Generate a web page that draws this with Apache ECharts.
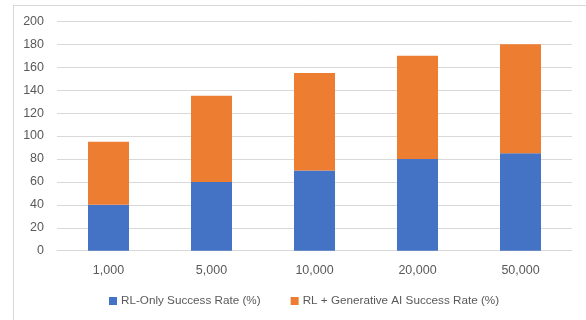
<!DOCTYPE html>
<html>
<head>
<meta charset="utf-8">
<script src="https://cdn.jsdelivr.net/npm/echarts@6/dist/echarts.min.js"></script>
<style>html,body{margin:0;padding:0;background:#fff;}#c{width:586px;height:320px;}</style>
</head>
<body>
<div id="c"></div>
<script>
var categories = ['1,000', '5,000', '10,000', '20,000', '50,000'];
var rlOnly = [40, 60, 70, 80, 85];
var rlGenAI = [55, 75, 85, 90, 95];
var seriesNames = ['RL-Only Success Rate (%)', 'RL + Generative AI Success Rate (%)'];

var chart = echarts.init(document.getElementById('c'));
var font = 'Liberation Sans';
chart.setOption({
  animation: false,
  graphic: [
    { type: 'line', shape: { x1: 13, y1: 5.5, x2: 586, y2: 5.5 }, style: { stroke: '#D9D9D9', lineWidth: 1 } },
    { type: 'line', shape: { x1: 13.5, y1: 5, x2: 13.5, y2: 320 }, style: { stroke: '#D9D9D9', lineWidth: 1 } }
  ],
  grid: { left: 57, right: 14, top: 21.3, bottom: 69.3, containLabel: false },
  legend: {
    bottom: 8,
    left: 104,
    itemWidth: 8, itemHeight: 8, itemGap: 30,
    icon: 'rect',
    textStyle: { fontFamily: font, fontSize: 11.7, color: '#595959', padding: [0, 0, 0, -1] },
    data: seriesNames
  },
  xAxis: {
    type: 'category',
    data: categories,
    axisLine: { lineStyle: { color: '#D9D9D9' } },
    axisTick: { show: false },
    axisLabel: { fontFamily: font, fontSize: 12.5, color: '#595959', margin: 13 }
  },
  yAxis: {
    type: 'value',
    min: 0, max: 200, interval: 20,
    axisLine: { show: false },
    axisTick: { show: false },
    splitLine: { lineStyle: { color: '#D9D9D9' } },
    axisLabel: { fontFamily: font, fontSize: 12.5, color: '#595959', margin: 13 }
  },
  series: [
    { name: seriesNames[0], type: 'bar', stack: 's', data: rlOnly, barWidth: 41, itemStyle: { color: '#4472C4' } },
    { name: seriesNames[1], type: 'bar', stack: 's', data: rlGenAI, barWidth: 41, itemStyle: { color: '#ED7D31' } }
  ]
});
</script>
</body>
</html>
